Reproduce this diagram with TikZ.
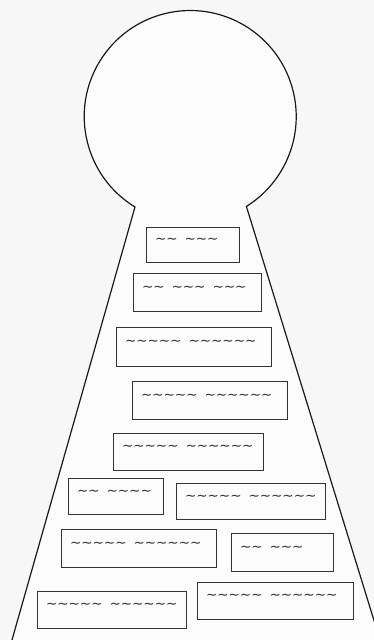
\documentclass[tikz,border=0pt]{standalone}
\usepackage{fontspec}
\newfontfamily\wavefont{DejaVu Sans}
\usetikzlibrary{positioning}

\begin{document}
\begin{tikzpicture}[x=1pt,y=1pt,every node/.style={font=\wavefont\fontsize{13.5}{13.5}\selectfont}]
  \tikzset{card/.style={draw=black!80,line width=0.9pt,inner xsep=9pt,inner ysep=0pt,
                        text depth=7pt,align=left,text=black!80},
           keyline/.style={draw=black!90,line width=1.2pt}}
  \useasboundingbox[fill=black!3] (0,0) rectangle (374,640);
  \clip (0,0) rectangle (374,640);
  % keyhole outline
  \coordinate (kc) at (190,523);
  \coordinate (kl) at (135,433);
  \coordinate (kr) at (247,432);
  \coordinate (bl) at (12,0);
  \coordinate (br) at (380,0);
  \draw[keyline,fill=black!1] (bl) -- (kl) arc[start angle=238.6,end angle=-58,radius=106] -- (br);
  % cards
  \node[card,text width=75pt,minimum height=35pt] (c1) at (192.5,395.5) {∼∼\kern7pt∼∼∼};
  \node[card,text width=110pt,minimum height=38pt] (c2) at (197,348) {∼∼\kern7pt∼∼∼\kern7pt∼∼∼};
  \node[card,text width=137pt,minimum height=39pt] (c3) at (193.5,293.5) {∼∼∼∼∼\kern7pt∼∼∼∼∼∼};
  \node[card,text width=137pt,minimum height=38pt] (c4) at (209.5,240) {∼∼∼∼∼\kern7pt∼∼∼∼∼∼};
  \node[card,text width=132pt,minimum height=37pt] (c5) at (188,188.5) {∼∼∼∼∼\kern7pt∼∼∼∼∼∼};
  \node[card,text width=77pt,minimum height=36pt] (c6) at (115.5,144) {∼∼\kern7pt∼∼∼∼};
  \node[card,text width=131pt,minimum height=36pt] (c7) at (250.5,139) {∼∼∼∼∼\kern7pt∼∼∼∼∼∼};
  \node[card,text width=137pt,minimum height=38pt] (c8) at (138.5,92) {∼∼∼∼∼\kern7pt∼∼∼∼∼∼};
  \node[card,text width=84pt,minimum height=38pt] (c9) at (282,88) {∼∼\kern7pt∼∼∼};
  \node[card,text width=131pt,minimum height=37pt] (c10) at (111.5,30.5) {∼∼∼∼∼\kern7pt∼∼∼∼∼∼};
  \node[card,text width=138pt,minimum height=37pt] (c11) at (275,39.5) {∼∼∼∼∼\kern7pt∼∼∼∼∼∼};
\end{tikzpicture}
\end{document}
